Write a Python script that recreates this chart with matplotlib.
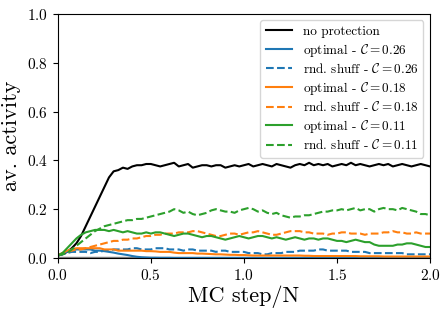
import numpy as np
import matplotlib
matplotlib.use("Agg")
import matplotlib.pyplot as plt

plt.rcParams['font.family'] = 'serif'
plt.rcParams['font.serif'] = ['cmr10']
plt.rcParams['mathtext.fontset'] = 'cm'
plt.rcParams['axes.formatter.use_mathtext'] = True

# MC step / N, sampled every 0.025
passo = np.arange(81) * 0.025

sem_protecao = [0.01, 0.015, 0.025, 0.04, 0.06, 0.09, 0.13, 0.17, 0.21, 0.25,
                0.29, 0.33, 0.355, 0.36, 0.37, 0.365, 0.375, 0.38, 0.38, 0.385,
                0.385, 0.38, 0.375, 0.38, 0.385, 0.39, 0.375, 0.38, 0.385, 0.37,
                0.375, 0.38, 0.38, 0.375, 0.38, 0.38, 0.37, 0.375, 0.38, 0.375,
                0.38, 0.385, 0.375, 0.38, 0.385, 0.38, 0.375, 0.385, 0.38, 0.375,
                0.37, 0.38, 0.385, 0.38, 0.39, 0.38, 0.385, 0.38, 0.385, 0.375,
                0.38, 0.385, 0.38, 0.39, 0.38, 0.385, 0.38, 0.375, 0.38, 0.385,
                0.38, 0.385, 0.375, 0.38, 0.385, 0.38, 0.375, 0.38, 0.385, 0.38,
                0.375]

otimo_026 = [0.01, 0.02, 0.025, 0.03, 0.035, 0.035, 0.035, 0.035, 0.03, 0.03,
             0.028, 0.025, 0.022, 0.018, 0.015, 0.012, 0.008, 0.005, 0.003, 0.002,
             0.001, 0.001, 0.0005, 0.0005, 0.0005, 0.0, 0.0, 0.0, 0.0, 0.0,
             0.0, 0.0, 0.0, 0.0, 0.0, 0.0, 0.0, 0.0, 0.0, 0.0,
             0.0, 0.0, 0.0, 0.0, 0.0, 0.0, 0.0, 0.0, 0.0, 0.0,
             0.0, 0.0, 0.0, 0.0, 0.0, 0.0, 0.0, 0.0, 0.0, 0.0,
             0.0, 0.0, 0.0, 0.0, 0.0, 0.0, 0.0, 0.0, 0.0, 0.0,
             0.0, 0.0, 0.0, 0.0, 0.0, 0.0, 0.0, 0.0, 0.0, 0.0,
             0.0]

shuff_026 = [0.01, 0.015, 0.02, 0.025, 0.025, 0.025, 0.025, 0.02, 0.025, 0.025,
             0.03, 0.03, 0.035, 0.035, 0.035, 0.035, 0.04, 0.04, 0.035, 0.035,
             0.035, 0.04, 0.04, 0.04, 0.035, 0.035, 0.035, 0.03, 0.035, 0.035,
             0.03, 0.03, 0.03, 0.03, 0.025, 0.03, 0.03, 0.025, 0.025, 0.025,
             0.025, 0.02, 0.02, 0.02, 0.015, 0.015, 0.02, 0.02, 0.02, 0.025,
             0.025, 0.025, 0.03, 0.03, 0.03, 0.03, 0.035, 0.035, 0.03, 0.03,
             0.03, 0.03, 0.03, 0.025, 0.025, 0.025, 0.025, 0.02, 0.02, 0.02,
             0.02, 0.02, 0.02, 0.02, 0.02, 0.015, 0.015, 0.015, 0.015, 0.015,
             0.015]

otimo_018 = [0.01, 0.02, 0.03, 0.035, 0.04, 0.04, 0.04, 0.04, 0.04, 0.04,
             0.035, 0.035, 0.035, 0.03, 0.03, 0.03, 0.03, 0.03, 0.03, 0.028,
             0.028, 0.027, 0.025, 0.025, 0.025, 0.022, 0.02, 0.02, 0.02, 0.02,
             0.018, 0.018, 0.017, 0.016, 0.015, 0.015, 0.014, 0.013, 0.013, 0.012,
             0.012, 0.011, 0.01, 0.01, 0.01, 0.01, 0.01, 0.01, 0.01, 0.01,
             0.01, 0.01, 0.01, 0.009, 0.009, 0.008, 0.008, 0.008, 0.008, 0.008,
             0.008, 0.008, 0.008, 0.008, 0.008, 0.007, 0.007, 0.007, 0.007, 0.007,
             0.006, 0.006, 0.006, 0.006, 0.006, 0.006, 0.006, 0.006, 0.006, 0.006,
             0.006]

shuff_018 = [0.01, 0.02, 0.025, 0.03, 0.035, 0.035, 0.04, 0.045, 0.05, 0.055,
             0.06, 0.065, 0.07, 0.07, 0.075, 0.075, 0.08, 0.08, 0.085, 0.09,
             0.09, 0.095, 0.095, 0.1, 0.1, 0.1, 0.105, 0.105, 0.105, 0.11,
             0.11, 0.105, 0.1, 0.095, 0.09, 0.09, 0.095, 0.1, 0.1, 0.095,
             0.1, 0.105, 0.105, 0.11, 0.105, 0.1, 0.095, 0.095, 0.1, 0.105,
             0.11, 0.11, 0.11, 0.105, 0.105, 0.1, 0.1, 0.1, 0.095, 0.1,
             0.1, 0.105, 0.105, 0.1, 0.1, 0.1, 0.095, 0.1, 0.1, 0.1,
             0.105, 0.105, 0.11, 0.105, 0.105, 0.1, 0.1, 0.105, 0.1, 0.1,
             0.1]

otimo_011 = [0.01, 0.02, 0.04, 0.06, 0.08, 0.095, 0.105, 0.11, 0.115, 0.115,
             0.115, 0.11, 0.115, 0.11, 0.105, 0.11, 0.105, 0.1, 0.1, 0.105,
             0.1, 0.105, 0.105, 0.1, 0.095, 0.09, 0.095, 0.1, 0.1, 0.095,
             0.09, 0.085, 0.09, 0.09, 0.085, 0.08, 0.075, 0.08, 0.085, 0.09,
             0.085, 0.08, 0.085, 0.09, 0.09, 0.085, 0.08, 0.085, 0.08, 0.075,
             0.08, 0.085, 0.08, 0.075, 0.08, 0.08, 0.075, 0.08, 0.08, 0.075,
             0.07, 0.07, 0.065, 0.07, 0.075, 0.07, 0.065, 0.065, 0.055, 0.05,
             0.05, 0.05, 0.05, 0.055, 0.055, 0.06, 0.06, 0.055, 0.05, 0.045,
             0.045]

shuff_011 = [0.01, 0.015, 0.02, 0.035, 0.05, 0.065, 0.08, 0.095, 0.11, 0.12,
             0.13, 0.135, 0.14, 0.145, 0.15, 0.155, 0.155, 0.16, 0.16, 0.165,
             0.17, 0.175, 0.18, 0.185, 0.19, 0.2, 0.195, 0.185, 0.19, 0.18,
             0.175, 0.18, 0.185, 0.195, 0.2, 0.195, 0.19, 0.19, 0.185, 0.195,
             0.2, 0.205, 0.2, 0.19, 0.195, 0.185, 0.18, 0.185, 0.175, 0.17,
             0.165, 0.17, 0.17, 0.175, 0.175, 0.18, 0.185, 0.19, 0.19, 0.195,
             0.195, 0.2, 0.195, 0.2, 0.205, 0.195, 0.2, 0.2, 0.19, 0.2,
             0.205, 0.2, 0.2, 0.195, 0.205, 0.2, 0.195, 0.19, 0.18, 0.18,
             0.175]

curvas = [
    (sem_protecao, 'black', '-', 'no protection'),
    (otimo_026, 'C0', '-', r'optimal - $\mathcal{C} = 0.26$'),
    (shuff_026, 'C0', '--', r'rnd. shuff - $\mathcal{C} = 0.26$'),
    (otimo_018, 'C1', '-', r'optimal - $\mathcal{C} = 0.18$'),
    (shuff_018, 'C1', '--', r'rnd. shuff - $\mathcal{C} = 0.18$'),
    (otimo_011, 'C2', '-', r'optimal - $\mathcal{C} = 0.11$'),
    (shuff_011, 'C2', '--', r'rnd. shuff - $\mathcal{C} = 0.11$'),
]

fig = plt.figure(figsize=(4.48, 3.15), dpi=100)
ax = fig.add_axes([0.129, 0.181, 0.831, 0.775])

ax.axhline(0, color='grey', lw=2.5, zorder=1)
for dados, cor, estilo, rotulo in curvas:
    ax.plot(passo, dados, color=cor, linestyle=estilo, lw=1.5, label=rotulo)

ax.set_xlim(0, 2)
ax.set_ylim(0, 1)
ax.set_xticks([0, 0.5, 1.0, 1.5, 2.0])
ax.set_yticks([0, 0.2, 0.4, 0.6, 0.8, 1.0])
ax.tick_params(labelsize=11)
ax.set_xlabel('MC step/N', fontsize=16, labelpad=2)
ax.set_ylabel('av. activity', fontsize=16, labelpad=4)
ax.legend(loc='upper right', fontsize=9.5, labelspacing=0.27)

fig.savefig('out.png', dpi=100)
